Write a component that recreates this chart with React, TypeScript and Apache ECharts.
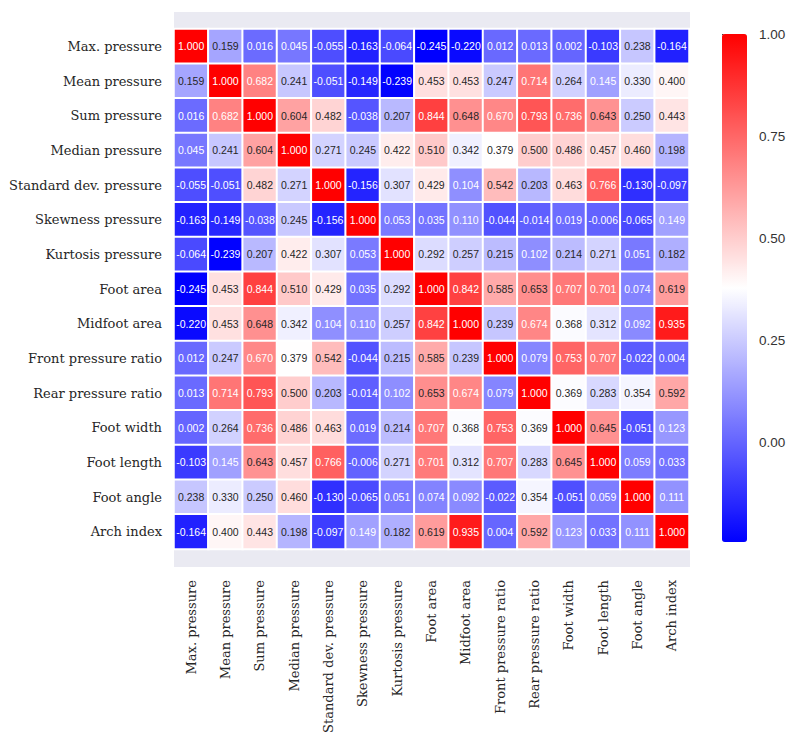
import React, { useEffect, useRef } from "react";
import * as echarts from "echarts";

const variables = [
  "Max. pressure",
  "Mean pressure",
  "Sum pressure",
  "Median pressure",
  "Standard dev. pressure",
  "Skewness pressure",
  "Kurtosis pressure",
  "Foot area",
  "Midfoot area",
  "Front pressure ratio",
  "Rear pressure ratio",
  "Foot width",
  "Foot length",
  "Foot angle",
  "Arch index",
];

const rowMaxPressure = [1.0, 0.159, 0.016, 0.045, -0.055, -0.163, -0.064, -0.245, -0.22, 0.012, 0.013, 0.002, -0.103, 0.238, -0.164];
const rowMeanPressure = [0.159, 1.0, 0.682, 0.241, -0.051, -0.149, -0.239, 0.453, 0.453, 0.247, 0.714, 0.264, 0.145, 0.33, 0.4];
const rowSumPressure = [0.016, 0.682, 1.0, 0.604, 0.482, -0.038, 0.207, 0.844, 0.648, 0.67, 0.793, 0.736, 0.643, 0.25, 0.443];
const rowMedianPressure = [0.045, 0.241, 0.604, 1.0, 0.271, 0.245, 0.422, 0.51, 0.342, 0.379, 0.5, 0.486, 0.457, 0.46, 0.198];
const rowStdPressure = [-0.055, -0.051, 0.482, 0.271, 1.0, -0.156, 0.307, 0.429, 0.104, 0.542, 0.203, 0.463, 0.766, -0.13, -0.097];
const rowSkewness = [-0.163, -0.149, -0.038, 0.245, -0.156, 1.0, 0.053, 0.035, 0.11, -0.044, -0.014, 0.019, -0.006, -0.065, 0.149];
const rowKurtosis = [-0.064, -0.239, 0.207, 0.422, 0.307, 0.053, 1.0, 0.292, 0.257, 0.215, 0.102, 0.214, 0.271, 0.051, 0.182];
const rowFootArea = [-0.245, 0.453, 0.844, 0.51, 0.429, 0.035, 0.292, 1.0, 0.842, 0.585, 0.653, 0.707, 0.701, 0.074, 0.619];
const rowMidfootArea = [-0.22, 0.453, 0.648, 0.342, 0.104, 0.11, 0.257, 0.842, 1.0, 0.239, 0.674, 0.368, 0.312, 0.092, 0.935];
const rowFrontRatio = [0.012, 0.247, 0.67, 0.379, 0.542, -0.044, 0.215, 0.585, 0.239, 1.0, 0.079, 0.753, 0.707, -0.022, 0.004];
const rowRearRatio = [0.013, 0.714, 0.793, 0.5, 0.203, -0.014, 0.102, 0.653, 0.674, 0.079, 1.0, 0.369, 0.283, 0.354, 0.592];
const rowFootWidth = [0.002, 0.264, 0.736, 0.486, 0.463, 0.019, 0.214, 0.707, 0.368, 0.753, 0.369, 1.0, 0.645, -0.051, 0.123];
const rowFootLength = [-0.103, 0.145, 0.643, 0.457, 0.766, -0.006, 0.271, 0.701, 0.312, 0.707, 0.283, 0.645, 1.0, 0.059, 0.033];
const rowFootAngle = [0.238, 0.33, 0.25, 0.46, -0.13, -0.065, 0.051, 0.074, 0.092, -0.022, 0.354, -0.051, 0.059, 1.0, 0.111];
const rowArchIndex = [-0.164, 0.4, 0.443, 0.198, -0.097, 0.149, 0.182, 0.619, 0.935, 0.004, 0.592, 0.123, 0.033, 0.111, 1.0];

const matrix = [
  rowMaxPressure,
  rowMeanPressure,
  rowSumPressure,
  rowMedianPressure,
  rowStdPressure,
  rowSkewness,
  rowKurtosis,
  rowFootArea,
  rowMidfootArea,
  rowFrontRatio,
  rowRearRatio,
  rowFootWidth,
  rowFootLength,
  rowFootAngle,
  rowArchIndex,
];

const colorbarTicks = [0, 0.25, 0.5, 0.75, 1.0];
const vMin = -0.245;
const vMax = 1.0;

function cmapRGB(v: number): [number, number, number] {
  let t = (v - vMin) / (vMax - vMin);
  t = Math.max(0, Math.min(1, t));
  if (t < 0.5) {
    const f = t * 2;
    return [f, f, 1];
  }
  const f = (t - 0.5) * 2;
  return [1, 1 - f, 1 - f];
}

function lin(c: number) {
  return c <= 0.03928 ? c / 12.92 : Math.pow((c + 0.055) / 1.055, 2.4);
}

function textColor(v: number) {
  const [r, g, b] = cmapRGB(v);
  const lum = 0.2126 * lin(r) + 0.7152 * lin(g) + 0.0722 * lin(b);
  return lum > 0.408 ? "#262626" : "#ffffff";
}

export default function App() {
  const ref = useRef<HTMLDivElement>(null);

  useEffect(() => {
    if (!ref.current) return;
    const chart = echarts.init(ref.current, undefined, { renderer: "svg" });

    const data: any[] = [];
    matrix.forEach((row, yi) => {
      row.forEach((v, xi) => {
        data.push({
          value: [xi, yi, v],
          label: { color: textColor(v) },
        });
      });
    });

    const serif = "'DejaVu Serif', 'Liberation Serif', serif";
    const sans = "'Liberation Sans', Arial, sans-serif";

    chart.setOption({
      animation: false,
      backgroundColor: "#ffffff",
      graphic: [
        {
          type: "rect",
          silent: true,
          z: -10,
          shape: { x: 174, y: 12, width: 516, height: 555 },
          style: { fill: "#eaeaf2" },
        },
      ],
      grid: [
        { left: 174, top: 29, width: 515, height: 520 },
        { left: 722, top: 34, width: 25, height: 508 },
      ],
      xAxis: [
        {
          type: "category",
          gridIndex: 0,
          data: variables,
          axisLine: { show: false },
          axisTick: { show: false },
          splitLine: { show: false },
          axisLabel: {
            rotate: 90,
            margin: 31,
            interval: 0,
            fontFamily: serif,
            fontSize: 13,
            color: "#262626",
          },
        },
        {
          type: "value",
          gridIndex: 1,
          show: false,
        },
      ],
      yAxis: [
        {
          type: "category",
          gridIndex: 0,
          inverse: true,
          data: variables,
          axisLine: { show: false },
          axisTick: { show: false },
          splitLine: { show: false },
          axisLabel: {
            margin: 12,
            interval: 0,
            fontFamily: serif,
            fontSize: 13,
            color: "#262626",
          },
        },
        {
          type: "value",
          gridIndex: 1,
          position: "right",
          min: vMin,
          max: vMax,
          axisLine: { show: false },
          splitLine: { show: false },
          axisTick: {
            show: true,
            length: 5,
            customValues: colorbarTicks,
            lineStyle: { color: "#333333", width: 1 },
          },
          axisLabel: {
            margin: 12,
            customValues: colorbarTicks,
            formatter: (v: number) => v.toFixed(2),
            fontFamily: sans,
            fontSize: 13.5,
            color: "#333333",
          },
        },
      ],
      visualMap: {
        type: "continuous",
        show: true,
        seriesIndex: 0,
        min: vMin,
        max: vMax,
        calculable: false,
        left: 722,
        top: 34,
        padding: 0,
        itemWidth: 25,
        itemHeight: 508,
        inRange: { color: ["#0000ff", "#ffffff", "#ff0000"] },
      },
      series: [
        {
          type: "heatmap",
          xAxisIndex: 0,
          yAxisIndex: 0,
          data,
          itemStyle: { borderColor: "#ffffff", borderWidth: 2 },
          emphasis: { disabled: true },
          label: {
            show: true,
            formatter: (p: any) => p.value[2].toFixed(3),
            fontFamily: sans,
            fontSize: 10.5,
          },
        },
      ],
    });

    return () => chart.dispose();
  }, []);

  return (
    <div
      ref={ref}
      style={{ position: "absolute", left: 0, top: 0, width: 796, height: 747 }}
    />
  );
}
